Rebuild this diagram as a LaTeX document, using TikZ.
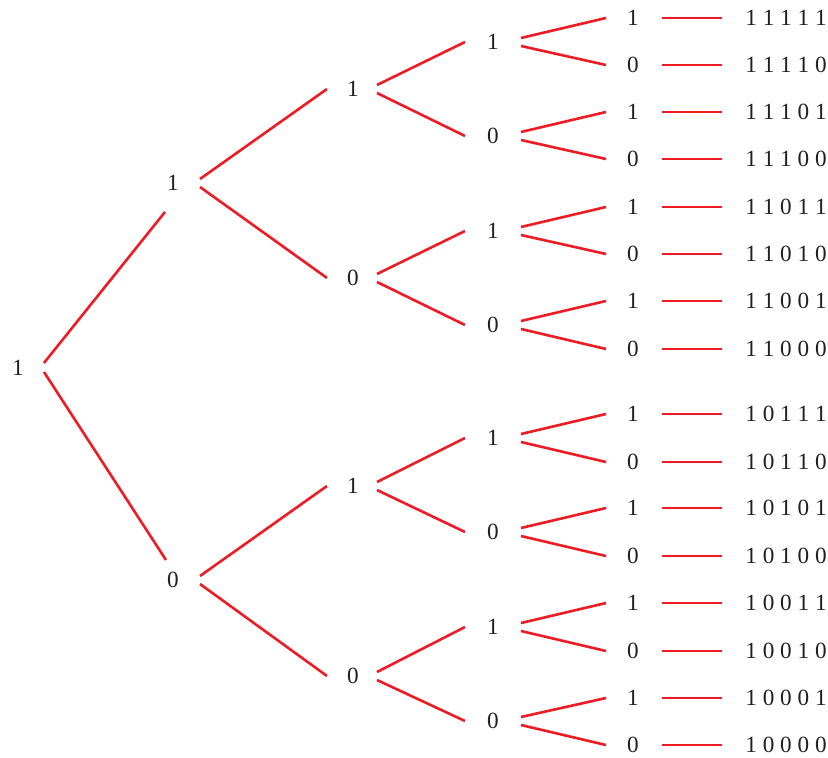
\documentclass[tikz,border=0pt]{standalone}
\usepackage{fontspec}
\setmainfont{Liberation Serif}
\usetikzlibrary{positioning}
\definecolor{treered}{HTML}{ED1C24}
\definecolor{inkgray}{HTML}{231F20}

\begin{document}
\begin{tikzpicture}[
  x=0.5pt, y=-0.5pt,
  font=\fontsize{11.6}{14}\selectfont,
  bit/.style={inner sep=0pt, text=inkgray},
  word/.style={bit, anchor=west},
  edge/.style={treered, line width=1.3pt},
]
\useasboundingbox (0,0) rectangle (828,758);

% ---- root and first two levels --------------------------------------------
\node[bit] (n1)    at (18,368)  {1};
\node[bit] (n11)   at (173,183) {1};
\node[bit] (n10)   at (173,580) {0};
\node[bit] (n111)  at (353,89)  {1};
\node[bit] (n110)  at (353,278) {0};
\node[bit] (n101)  at (353,486) {1};
\node[bit] (n100)  at (353,676) {0};

% ---- third level ----------------------------------------------------------
\node[bit] (n1111) at (493,42)  {1};
\node[bit] (n1110) at (493,136) {0};
\node[bit] (n1101) at (493,231) {1};
\node[bit] (n1100) at (493,325) {0};
\node[bit] (n1011) at (493,438) {1};
\node[bit] (n1010) at (493,532) {0};
\node[bit] (n1001) at (493,627) {1};
\node[bit] (n1000) at (493,721) {0};

% ---- branches -------------------------------------------------------------
\draw[edge] ([shift={(26,-5)}]n1.center) -- ([shift={(-8,29)}]n11.center);
\draw[edge] ([shift={(26,4)}]n1.center)  -- ([shift={(-7,-20)}]n10.center);
\foreach \p/\b in {11/1, 11/0, 10/1, 10/0}
  \draw[edge] ([shift={(27,{4-8*\b})}]n\p.center) -- ([shift={(-26,0)}]n\p\b.center);
\foreach \p/\b in {111/1, 111/0, 110/1, 110/0, 101/1, 101/0, 100/1, 100/0}
  \draw[edge] ([shift={(24,{4-8*\b})}]n\p.center) -- ([shift={(-28,0)}]n\p\b.center);

% ---- leaves and the words they spell --------------------------------------
\foreach \p/\b/\y/\t in {1111/1/18/1 1 1 1 1,   1111/0/65/1 1 1 1 0,
                         1110/1/112/1 1 1 0 1,  1110/0/159/1 1 1 0 0,
                         1101/1/207/1 1 0 1 1,  1101/0/254/1 1 0 1 0,
                         1100/1/301/1 1 0 0 1,  1100/0/349/1 1 0 0 0,
                         1011/1/414/1 0 1 1 1,  1011/0/462/1 0 1 1 0,
                         1010/1/508/1 0 1 0 1,  1010/0/556/1 0 1 0 0,
                         1001/1/603/1 0 0 1 1,  1001/0/651/1 0 0 1 0,
                         1000/1/698/1 0 0 0 1,  1000/0/745/1 0 0 0 0} {
  \node[bit]  (n\p\b) at (633,\y) {\b};
  \node[word] (w\p\b) at (745,\y) {\t};
  \draw[edge] ([shift={(28,{4-8*\b})}]n\p.center) -- ([shift={(-27,0)}]n\p\b.center);
  \draw[edge] ([shift={(29,0)}]n\p\b.center) -- ([shift={(-23,0)}]w\p\b.west);
}

\end{tikzpicture}
\end{document}
